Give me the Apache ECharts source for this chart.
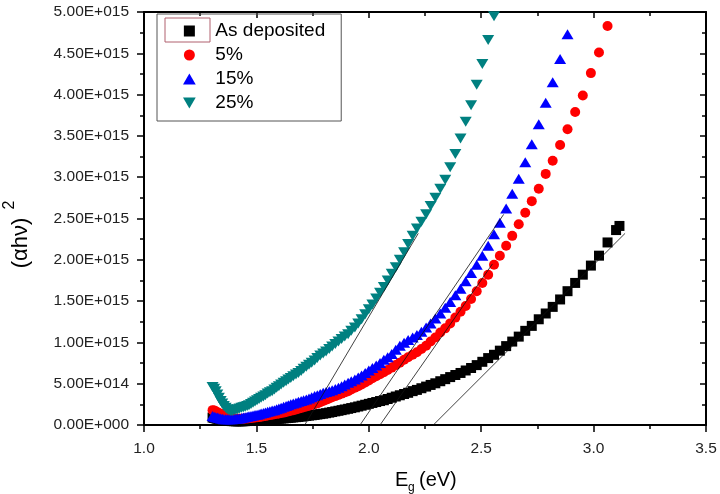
<!DOCTYPE html>
<html>
<head>
<meta charset="utf-8">
<script src="https://cdn.jsdelivr.net/npm/echarts@6/dist/echarts.min.js"></script>
<style>
html,body{margin:0;padding:0;background:#fff;}
#chart{width:720px;height:494px;}
</style>
</head>
<body>
<div id="chart"></div>
<script>
// Photon energy grid (eV), shared by all series
const energy = [
1.305,1.312,1.319,1.326,1.333,1.341,1.348,1.355,1.363,1.370,
1.378,1.386,1.393,1.401,1.409,1.417,1.425,1.434,1.442,1.450,
1.459,1.467,1.476,1.485,1.494,1.503,1.512,1.521,1.531,1.540,
1.550,1.560,1.570,1.580,1.590,1.600,1.610,1.621,1.632,1.642,
1.653,1.664,1.676,1.687,1.699,1.710,1.722,1.734,1.746,1.759,
1.771,1.784,1.797,1.810,1.824,1.837,1.851,1.865,1.879,1.893,
1.908,1.922,1.938,1.953,1.968,1.984,2.000,2.016,2.033,2.050,
2.067,2.084,2.102,2.120,2.138,2.157,2.175,2.195,2.214,2.234,
2.255,2.275,2.296,2.318,2.340,2.362,2.385,2.408,2.431,2.455,
2.480,2.505,2.531,2.557,2.583,2.611,2.638,2.667,2.696,2.725,
2.756,2.787,2.818,2.851,2.884,2.918,2.952,2.988,3.024,3.062,
3.100,3.115];

// (alpha h nu)^2 values, in units of 1E+015
const asDeposited = [
0.09,0.085,0.08,0.075,0.07,0.065,0.06,0.057,0.054,0.052,
0.05,0.048,0.047,0.046,0.045,0.045,0.045,0.045,0.046,0.047,
0.048,0.049,0.05,0.052,0.054,0.056,0.058,0.06,0.062,0.064,
0.066,0.068,0.07,0.072,0.074,0.076,0.078,0.080,0.083,0.086,
0.089,0.092,0.095,0.098,0.102,0.106,0.11,0.114,0.118,0.122,
0.127,0.132,0.137,0.143,0.15,0.157,0.165,0.172,0.18,0.188,
0.196,0.205,0.214,0.224,0.234,0.245,0.256,0.267,0.278,0.29,
0.30,0.315,0.33,0.345,0.36,0.375,0.39,0.41,0.425,0.445,
0.465,0.485,0.505,0.53,0.555,0.58,0.605,0.63,0.66,0.69,
0.725,0.765,0.81,0.85,0.90,0.955,1.01,1.07,1.14,1.20,
1.28,1.35,1.43,1.52,1.62,1.72,1.82,1.93,2.05,2.21,
2.36,2.41];

const pct5 = [
0.18,0.175,0.165,0.155,0.145,0.135,0.125,0.115,0.105,0.095,
0.09,0.085,0.08,0.078,0.076,0.075,0.075,0.075,0.076,0.078,
0.08,0.082,0.085,0.088,0.09,0.093,0.096,0.10,0.105,0.11,
0.115,0.12,0.125,0.13,0.135,0.14,0.145,0.15,0.158,0.165,
0.172,0.18,0.188,0.196,0.205,0.214,0.223,0.232,0.242,0.252,
0.262,0.275,0.29,0.305,0.32,0.335,0.35,0.365,0.38,0.395,
0.41,0.43,0.45,0.47,0.49,0.515,0.54,0.565,0.59,0.615,
0.64,0.665,0.695,0.725,0.755,0.79,0.82,0.85,0.88,0.92,
0.96,1.01,1.06,1.12,1.17,1.23,1.30,1.37,1.44,1.525,
1.62,1.72,1.82,1.94,2.05,2.17,2.29,2.43,2.57,2.71,
2.86,3.04,3.20,3.39,3.58,3.79,3.99,4.26,4.51,4.83];

const pct15 = [
0.11,0.10,0.095,0.09,0.085,0.08,0.075,0.07,0.07,0.07,
0.07,0.07,0.07,0.072,0.075,0.078,0.08,0.085,0.09,0.095,
0.10,0.105,0.11,0.115,0.12,0.125,0.13,0.14,0.145,0.15,
0.16,0.165,0.175,0.18,0.19,0.20,0.21,0.22,0.23,0.24,
0.25,0.26,0.27,0.28,0.29,0.30,0.31,0.32,0.335,0.35,
0.36,0.375,0.39,0.40,0.41,0.42,0.435,0.45,0.47,0.49,
0.51,0.53,0.55,0.575,0.60,0.63,0.66,0.69,0.72,0.75,
0.79,0.82,0.86,0.91,0.96,0.995,1.03,1.06,1.09,1.13,
1.18,1.23,1.29,1.35,1.42,1.49,1.57,1.65,1.74,1.84,
1.94,2.05,2.17,2.31,2.45,2.62,2.80,2.98,3.18,3.40,
3.64,3.90,4.15,4.43,4.73];

const pct25 = [
0.46,0.44,0.41,0.37,0.33,0.29,0.26,0.23,0.21,0.19,
0.18,0.17,0.17,0.18,0.185,0.19,0.20,0.21,0.215,0.22,
0.23,0.24,0.255,0.27,0.285,0.30,0.315,0.33,0.345,0.36,
0.38,0.395,0.41,0.43,0.45,0.47,0.49,0.51,0.53,0.55,
0.57,0.59,0.61,0.63,0.655,0.68,0.705,0.73,0.755,0.78,
0.81,0.84,0.865,0.89,0.92,0.95,0.98,1.01,1.04,1.07,
1.10,1.14,1.18,1.23,1.28,1.34,1.40,1.46,1.53,1.60,
1.67,1.75,1.83,1.91,2.00,2.09,2.19,2.29,2.38,2.46,
2.55,2.65,2.75,2.86,2.97,3.12,3.28,3.47,3.67,3.87,
4.12,4.37,4.66,4.95];

const seriesNames = ['As deposited', '5%', '15%', '25%'];

// Linear extrapolation (Tauc) lines: endpoints [x0, x1], [y0, y1]
const fitX = [[1.715, 2.22], [1.961, 2.60], [2.05, 2.55], [2.287, 3.14]];
const fitY = [[0, 2.32], [0, 2.55], [0, 1.95], [0, 2.32]];

const xMin = 1.0, xMax = 3.5, xStep = 0.5;
const yMin = 0, yMax = 5, yStep = 0.5;

function zip(ys) { return ys.map((y, i) => [energy[i], y]); }
function sci(v) {
  if (Math.abs(v) < 1e-9) return '0.00E+000';
  const raw = v * 1e15;
  const e = Math.floor(Math.log10(raw) + 1e-9);
  const m = raw / Math.pow(10, e);
  return m.toFixed(2) + 'E+' + String(e).padStart(3, '0');
}

const FONT = '"Liberation Sans", Arial, sans-serif';
const axisLineStyle = { color: '#000', width: 2 };

const SQUARE = 'path://M0,0H10V10H0Z';
const TRI_UP = 'path://M5,0L10.5,9.5L-0.5,9.5Z';
const TRI_DOWN = 'path://M-0.5,0L10.5,0L5,9.5Z';

const chart = echarts.init(document.getElementById('chart'), null, { renderer: 'canvas' });

const markers = [
  { name: seriesNames[0], data: asDeposited, symbol: SQUARE, size: 10, color: '#000000' },
  { name: seriesNames[1], data: pct5, symbol: 'circle', size: 10, color: '#ff0000' },
  { name: seriesNames[2], data: pct15, symbol: TRI_UP, size: [12, 10], color: '#0000ff' },
  { name: seriesNames[3], data: pct25, symbol: TRI_DOWN, size: [12, 10], color: '#008080' }
];

const series = markers.map(m => ({
  type: 'scatter', name: m.name, data: zip(m.data), symbol: m.symbol, symbolSize: m.size,
  itemStyle: { color: m.color, opacity: 1 }, xAxisIndex: 0, yAxisIndex: 0, silent: true
}));
fitX.forEach((xs, i) => {
  series.push({
    type: 'line', name: 'fit' + i, data: xs.map((x, j) => [x, fitY[i][j]]),
    symbol: 'none', lineStyle: { color: '#111', width: 0.8 }, silent: true, z: 5
  });
});

chart.setOption({
  animation: false,
  backgroundColor: '#fff',
  grid: { left: 144, right: 14, top: 12, bottom: 69 },
  xAxis: [
    { type: 'value', min: xMin, max: xMax, interval: xStep, position: 'bottom',
      axisLine: { onZero: false, lineStyle: axisLineStyle },
      axisTick: { inside: false, length: 7, lineStyle: { color: '#000', width: 1.5 } },
      minorTick: { show: true, splitNumber: 2, length: 4, lineStyle: { color: '#000', width: 1.5 } },
      splitLine: { show: false },
      axisLabel: { formatter: v => v.toFixed(1), fontSize: 15.5, fontFamily: FONT, color: '#222', margin: 16 } },
    { type: 'value', min: xMin, max: xMax, interval: xStep, position: 'top',
      axisLine: { onZero: false, lineStyle: axisLineStyle },
      axisTick: { inside: true, length: 6, lineStyle: { color: '#000', width: 1.5 } },
      minorTick: { show: true, splitNumber: 2, length: 4, lineStyle: { color: '#000', width: 1.5 } },
      splitLine: { show: false }, axisLabel: { show: false } }
  ],
  yAxis: [
    { type: 'value', min: yMin, max: yMax, interval: yStep, position: 'left',
      axisLine: { onZero: false, lineStyle: axisLineStyle },
      axisTick: { inside: false, length: 7, lineStyle: { color: '#000', width: 1.5 } },
      minorTick: { show: true, splitNumber: 2, length: 4, lineStyle: { color: '#000', width: 1.5 } },
      splitLine: { show: false },
      axisLabel: { formatter: sci, fontSize: 15.5, fontFamily: FONT, color: '#222', margin: 15 } },
    { type: 'value', min: yMin, max: yMax, interval: yStep, position: 'right',
      axisLine: { onZero: false, lineStyle: axisLineStyle },
      axisTick: { inside: true, length: 6, lineStyle: { color: '#000', width: 1.5 } },
      minorTick: { show: true, splitNumber: 2, length: 4, lineStyle: { color: '#000', width: 1.5 } },
      splitLine: { show: false }, axisLabel: { show: false } }
  ],
  legend: {
    orient: 'vertical', left: 157, top: 14, padding: [6, 16, 7, 26], itemGap: 2,
    itemWidth: 42, itemHeight: 11, borderColor: '#555', borderWidth: 1,
    selectedMode: false, symbolKeepAspect: true,
    textStyle: { fontSize: 19, fontFamily: FONT, color: '#000', lineHeight: 22 },
    data: [
      { name: seriesNames[0], icon: SQUARE },
      { name: seriesNames[1], icon: 'circle' },
      { name: seriesNames[2], icon: TRI_UP },
      { name: seriesNames[3], icon: TRI_DOWN }
    ]
  },
  graphic: [
    { type: 'rect', z: 100, shape: { x: 165, y: 18, width: 45, height: 24 },
      style: { fill: 'none', stroke: '#b0606e', lineWidth: 1 } },
    { type: 'text', z: 100, x: 395, y: 470, style: { text: 'E', font: '20px ' + FONT, fill: '#000' } },
    { type: 'text', z: 100, x: 408, y: 482, style: { text: 'g', font: '12px ' + FONT, fill: '#000' } },
    { type: 'text', z: 100, x: 419, y: 470, style: { text: '(eV)', font: '20px ' + FONT, fill: '#000' } },
    { type: 'group', x: 21, y: 243, rotation: Math.PI / 2, z: 100, children: [
      { type: 'text', x: 0, y: 0, style: { text: '(\u03b1h\u03bd)', font: '22px ' + FONT, fill: '#000', align: 'center', verticalAlign: 'middle' } },
      { type: 'text', x: 38, y: -11, style: { text: '2', font: '16px ' + FONT, fill: '#000', align: 'center', verticalAlign: 'middle' } }
    ] }
  ],
  series: series
});
</script>
</body>
</html>
